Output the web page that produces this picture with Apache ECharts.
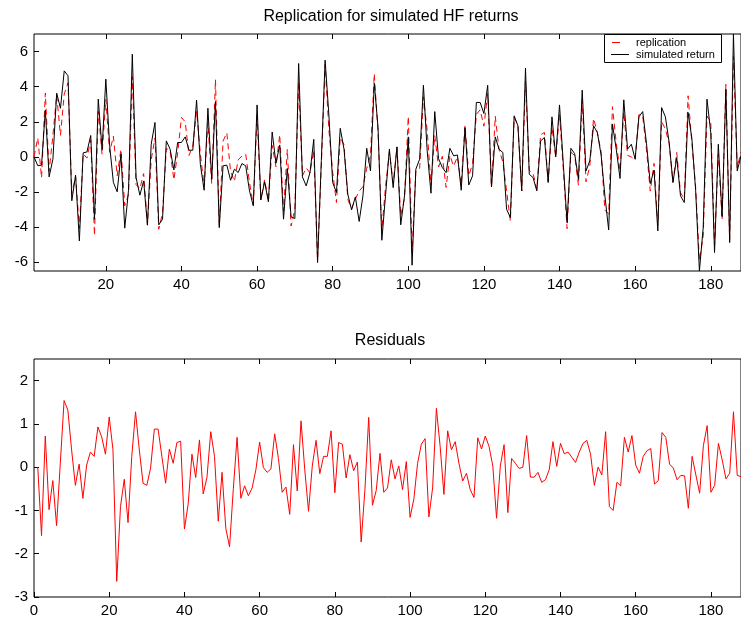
<!DOCTYPE html>
<html>
<head>
<meta charset="utf-8">
<script src="https://cdn.jsdelivr.net/npm/echarts@6/dist/echarts.min.js"></script>
<style>
html,body{margin:0;padding:0;background:#fff;}
#chart{width:741px;height:622px;}
</style>
</head>
<body>
<div id="chart"></div>
<script>
// simulated HF return (black), replication (red dashed), residuals (bottom)
const simulated = [
  0.0, -0.5, -0.47, 2.66, -1.14, -0.13, 3.63, 2.77, 4.9, 4.62,
  -2.5, -1.04, -4.79, 0.23, 0.28, 1.22, -3.55, 3.29, 0.44, 4.43,
  0.66, -1.46, -1.99, 0.15, -4.06, -1.9, 5.85, -1.18, -2.18, -1.37,
  -3.89, 0.72, 1.96, -3.87, -3.55, 0.91, 0.44, -0.74, 0.82, 0.82,
  1.14, 0.38, 0.38, 3.23, -0.42, -1.9, 2.77, -1.27, 3.15, -4.03,
  -0.51, -0.47, -1.33, -0.7, -0.89, -0.38, -0.51, -1.94, -2.79, 2.96,
  -2.45, -1.42, -2.56, 1.42, -0.36, 0.68, -3.55, -0.66, -3.42, -3.51,
  5.32, -1.14, -1.65, -0.89, 1.0, -6.02, -0.2, 5.51, 2.37, -1.46,
  -2.03, 1.63, 0.44, -2.13, -3.02, -2.28, -3.68, -2.22, 0.49, -0.8,
  4.2, 1.67, -4.75, -2.13, 0.44, -1.75, 0.57, -3.87, -2.22, 1.14,
  -6.17, -0.7, -0.13, 4.08, 0.34, -2.07, 2.58, -0.1, -0.6, -0.9,
  0.49, 0.06, 0.11, -1.9, 1.67, -1.6, -1.08, 3.1, 3.1, 2.47,
  4.08, -1.71, 1.14, 0.44, 0.25, -2.98, -3.46, 2.34, 1.77, -1.94,
  5.05, -0.99, -1.18, -1.94, 0.91, 1.1, -1.46, 2.28, 0.0, 2.96,
  -0.4, -3.74, 0.49, 0.19, -1.27, 3.8, -0.8, -0.23, 1.77, 1.39,
  0.11, -2.22, -4.16, 1.86, 0.44, -1.23, 3.25, 0.44, 0.72, -0.13,
  2.28, 2.58, 0.78, -1.52, -0.76, -4.22, 2.81, 2.28, 0.82, -1.46,
  -0.04, -2.22, -2.6, 2.53, 1.06, -1.9, -6.5, -4.03, 3.29, 1.39,
  -5.45, 0.72, -3.4, 3.86, -4.88, 7.0, -0.8, 0.06
];
const replication = [
  0.0, 1.08, -1.19, 3.64, -0.83, 1.22, 3.53, 1.23, 3.58, 4.22,
  -2.08, -1.11, -4.07, 0.18, -0.07, 0.97, -4.48, 2.59, 0.14, 3.27,
  0.26, 1.18, -1.08, 0.43, -2.78, -2.15, 4.57, -1.58, -1.81, -0.95,
  -3.87, -0.16, 1.08, -4.12, -3.18, 0.49, 0.35, -1.31, 0.22, 2.25,
  1.99, 0.08, 0.62, 2.6, 0.2, -1.67, 1.95, -1.52, 4.4, -3.91,
  0.9, 1.37, -0.83, -1.39, -0.17, 0.05, 0.15, -1.46, -2.73, 2.38,
  -2.44, -1.3, -2.52, 0.65, -0.56, 1.26, -3.09, 0.43, -3.94, -2.96,
  4.25, -1.08, -0.63, -0.92, 0.38, -5.87, -0.45, 5.26, 1.53, -0.87,
  -2.6, 1.1, 0.69, -2.42, -2.94, -2.4, -1.95, -1.7, -0.66, 0.08,
  4.74, 1.35, -4.17, -1.65, 0.27, -1.48, 0.54, -3.35, -2.35, 2.3,
  -5.43, -0.79, -0.66, 3.42, 1.49, -1.59, 1.22, -0.58, 0.03, -1.74,
  0.09, -0.53, 0.02, -1.58, 1.81, -1.08, -0.38, 2.42, 2.68, 1.75,
  3.6, -1.74, 2.32, 0.41, -0.27, -1.93, -3.66, 2.25, 1.8, -1.94,
  4.32, -0.76, -0.95, -1.82, 1.26, 1.39, -1.4, 1.69, -0.02, 2.41,
  -0.71, -4.09, 0.26, 0.08, -1.62, 3.25, -1.42, -0.53, 2.19, 1.39,
  0.29, -3.04, -3.25, 2.86, 0.79, -0.8, 2.56, 0.09, -0.01, -0.18,
  2.42, 2.33, 0.4, -1.95, -0.37, -3.91, 2.01, 1.59, 0.75, -1.44,
  0.25, -2.03, -2.4, 3.48, 0.81, -1.72, -5.9, -4.53, 2.33, 1.97,
  -5.03, 0.17, -3.57, 4.13, -4.74, 5.72, -0.61, 0.28
];
const residuals = [
  0, -1.58, 0.72, -0.98, -0.31, -1.35, 0.1, 1.54, 1.32, 0.4,
  -0.42, 0.07, -0.72, 0.05, 0.35, 0.25, 0.93, 0.7, 0.3, 1.16,
  0.4, -2.64, -0.91, -0.28, -1.28, 0.25, 1.28, 0.4, -0.37, -0.42,
  -0.02, 0.88, 0.88, 0.25, -0.37, 0.42, 0.09, 0.57, 0.6, -1.43,
  -0.85, 0.3, -0.24, 0.63, -0.62, -0.23, 0.82, 0.25, -1.25, -0.12,
  -1.41, -1.84, -0.5, 0.69, -0.72, -0.43, -0.66, -0.48, -0.06, 0.58,
  -0.01, -0.12, -0.04, 0.77, 0.2, -0.58, -0.46, -1.09, 0.52, -0.55,
  1.07, -0.06, -1.02, 0.03, 0.62, -0.15, 0.25, 0.25, 0.84, -0.59,
  0.57, 0.53, -0.25, 0.29, -0.08, 0.12, -1.73, -0.52, 1.15, -0.88,
  -0.54, 0.32, -0.58, -0.48, 0.17, -0.27, 0.03, -0.52, 0.13, -1.16,
  -0.74, 0.09, 0.53, 0.66, -1.15, -0.48, 1.36, 0.48, -0.63, 0.84,
  0.4, 0.59, 0.09, -0.32, -0.14, -0.52, -0.7, 0.68, 0.42, 0.72,
  0.48, 0.03, -1.18, 0.03, 0.52, -1.05, 0.2, 0.09, -0.03, 0,
  0.73, -0.23, -0.23, -0.12, -0.35, -0.29, -0.06, 0.59, 0.02, 0.55,
  0.31, 0.35, 0.23, 0.11, 0.35, 0.55, 0.62, 0.3, -0.42, 0,
  -0.18, 0.82, -0.91, -1.0, -0.35, -0.43, 0.69, 0.35, 0.73, 0.05,
  -0.14, 0.25, 0.38, 0.43, -0.39, -0.31, 0.8, 0.69, 0.07, -0.02,
  -0.29, -0.19, -0.2, -0.95, 0.25, -0.18, -0.6, 0.5, 0.96, -0.58,
  -0.42, 0.55, 0.17, -0.27, -0.14, 1.28, -0.19, -0.22
];
const topXTicks = [20, 40, 60, 80, 100, 120, 140, 160, 180];
const bottomXTicks = [0, 20, 40, 60, 80, 100, 120, 140, 160, 180];
const topYTicks = [-6, -4, -2, 0, 2, 4, 6];
const bottomYTicks = [-3, -2, -1, 0, 1, 2];
const titleTop = 'Replication for simulated HF returns';
const titleBottom = 'Residuals';
const legendNames = ['replication', 'simulated return'];

const FONT = '"Liberation Sans", Arial, Helvetica, sans-serif';
const toPairs = arr => arr.map((v, i) => [i + 1, v]);

function xAx(grid, min, max, ticks, pos, showLabel) {
  return {
    type: 'value', gridIndex: grid, min: min, max: max, position: pos,
    axisLine: { show: false, onZero: false },
    axisTick: { show: true, inside: true, length: 5, customValues: ticks, lineStyle: { color: '#000', width: 1 } },
    axisLabel: { show: showLabel, customValues: ticks, color: '#000', fontSize: 15, fontFamily: FONT, margin: 6 },
    splitLine: { show: false }
  };
}
function yAx(grid, min, max, ticks) {
  return {
    type: 'value', gridIndex: grid, min: min, max: max,
    axisLine: { show: false, onZero: false },
    axisTick: { show: true, inside: true, length: 5, customValues: ticks, lineStyle: { color: '#000', width: 1 } },
    axisLabel: { customValues: ticks, color: '#000', fontSize: 15, fontFamily: FONT, margin: 6 },
    splitLine: { show: false }
  };
}

const chart = echarts.init(document.getElementById('chart'), null, { renderer: 'canvas' });
chart.setOption({
  animation: false,
  backgroundColor: '#fff',
  grid: [
    { left: 34, right: -1, top: 34, height: 237, show: true, borderColor: '#000', borderWidth: 1, backgroundColor: 'transparent' },
    { left: 34, right: 0, top: 359, height: 238, show: true, borderColor: '#000', borderWidth: 1, backgroundColor: 'transparent' }
  ],
  xAxis: [
    xAx(0, 1, 188, topXTicks, 'bottom', true),
    xAx(0, 1, 188, topXTicks, 'top', false),
    xAx(1, 0, 188, bottomXTicks, 'bottom', true),
    xAx(1, 0, 188, bottomXTicks.slice(1), 'top', false)
  ],
  yAxis: [
    yAx(0, -6.5, 7, topYTicks),
    yAx(1, -3, 2.5, bottomYTicks)
  ],
  series: [
    { name: legendNames[0], type: 'line', xAxisIndex: 0, yAxisIndex: 0, data: toPairs(replication),
      showSymbol: false, symbol: 'none', z: 2,
      lineStyle: { color: '#ff0000', width: 1, type: [6, 4] } },
    { name: legendNames[1], type: 'line', xAxisIndex: 0, yAxisIndex: 0, data: toPairs(simulated),
      showSymbol: false, symbol: 'none', z: 3,
      lineStyle: { color: '#000000', width: 1 } },
    { name: 'residuals', type: 'line', xAxisIndex: 2, yAxisIndex: 1, data: toPairs(residuals),
      showSymbol: false, symbol: 'none', z: 2,
      lineStyle: { color: '#ff0000', width: 1 } }
  ],
  graphic: [
    { type: 'text', x: 391, y: 17, z: 10, style: { text: titleTop, fill: '#000', font: '16px ' + FONT, textAlign: 'center', textVerticalAlign: 'middle' } },
    { type: 'text', x: 390, y: 341, z: 10, style: { text: titleBottom, fill: '#000', font: '16px ' + FONT, textAlign: 'center', textVerticalAlign: 'middle' } },
    { type: 'rect', z: 20, shape: { x: 604.5, y: 34.5, width: 117, height: 28 }, style: { fill: '#fff', stroke: '#000', lineWidth: 1 } },
    { type: 'line', z: 21, shape: { x1: 612, y1: 42.5, x2: 620, y2: 42.5 }, style: { stroke: '#ff0000', lineWidth: 1 } },
    { type: 'line', z: 21, shape: { x1: 611, y1: 54.5, x2: 629, y2: 54.5 }, style: { stroke: '#000', lineWidth: 1 } },
    { type: 'text', z: 21, x: 636, y: 42.5, style: { text: legendNames[0], fill: '#000', font: '11px ' + FONT, textVerticalAlign: 'middle' } },
    { type: 'text', z: 21, x: 636, y: 54.5, style: { text: legendNames[1], fill: '#000', font: '11px ' + FONT, textVerticalAlign: 'middle' } }
  ]
});
</script>
</body>
</html>
